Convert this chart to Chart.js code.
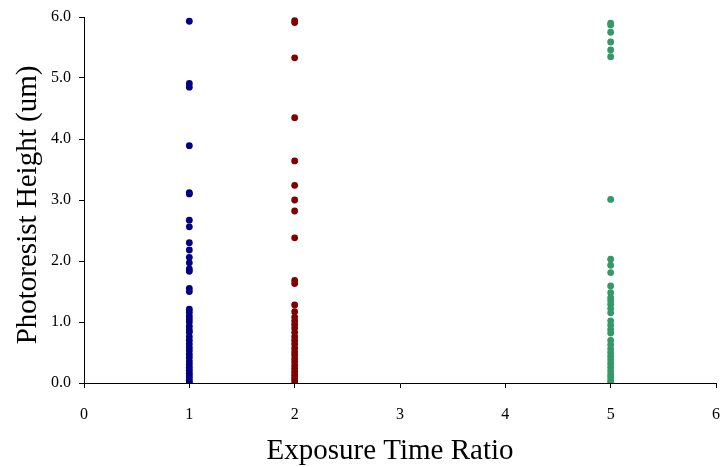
<!DOCTYPE html>
<html>
<head>
<meta charset="utf-8">
<script src="https://cdn.jsdelivr.net/npm/chart.js@4/dist/chart.umd.min.js"></script>
<style>
  html, body { margin: 0; padding: 0; background: #ffffff; }
  #wrap { width: 720px; height: 467px; }
</style>
</head>
<body>
<div id="wrap"><canvas id="chart" width="720" height="467"></canvas></div>
<script>
// Exposure time ratios tested
const ratios = [1, 2, 5];

// Measured photoresist heights (um) for each exposure time ratio
const heightsRatio1 = [5.93, 4.91, 4.85, 3.89, 3.12, 3.10, 2.67, 2.56, 2.30, 2.18, 2.06, 1.97, 1.87, 1.83, 1.55, 1.50,
  1.21, 1.16, 1.10, 1.05, 1.00, 0.93, 0.87, 0.83, 0.76, 0.70, 0.64, 0.58, 0.53, 0.47, 0.42, 0.36, 0.31, 0.26, 0.21,
  0.16, 0.12, 0.08, 0.04, 0.01];
const heightsRatio2 = [5.94, 5.91, 5.33, 4.35, 3.64, 3.24, 3.00, 2.82, 2.38, 1.68, 1.63, 1.28, 1.17, 1.08, 1.02, 0.96,
  0.90, 0.83, 0.76, 0.70, 0.64, 0.57, 0.51, 0.46, 0.40, 0.35, 0.29, 0.24, 0.19, 0.14, 0.10, 0.06, 0.02];
const heightsRatio5 = [5.90, 5.87, 5.75, 5.59, 5.46, 5.35, 3.01, 2.03, 1.93, 1.81, 1.59, 1.48, 1.40, 1.35, 1.29, 1.22,
  1.15, 1.02, 0.95, 0.88, 0.82, 0.70, 0.63, 0.56, 0.50, 0.44, 0.38, 0.32, 0.26, 0.20, 0.14, 0.09, 0.04, 0.00];

// Axis tick values
const xTicks = [0, 1, 2, 3, 4, 5, 6];
const yTicks = [0, 1, 2, 3, 4, 5, 6];

// Axis titles
const xTitle = 'Exposure Time Ratio';
const yTitle = 'Photoresist Height (um)';

const seriesColors = ['#000080', '#800000', '#339966'];
const seriesHeights = [heightsRatio1, heightsRatio2, heightsRatio5];

const datasets = ratios.map((r, i) => ({
  label: 'Ratio ' + r,
  data: seriesHeights[i].map(h => ({ x: r, y: h })),
  backgroundColor: seriesColors[i],
  borderColor: seriesColors[i],
  pointRadius: 3.4,
  pointBorderWidth: 0,
  pointHoverRadius: 3.4
}));

const serif = "'Liberation Serif', 'Times New Roman', serif";

// Axis titles placed a little off the plot centre, as in the original layout
const axisTitles = {
  id: 'axisTitles',
  afterDraw(chart) {
    const { ctx, chartArea } = chart;
    ctx.save();
    ctx.fillStyle = '#000000';
    ctx.font = '29px ' + serif;
    ctx.textAlign = 'center';
    ctx.textBaseline = 'middle';
    ctx.fillText(xTitle, (chartArea.left + chartArea.right) / 2 - 10, 451);
    ctx.translate(28, (chartArea.top + chartArea.bottom) / 2 + 5);
    ctx.rotate(-Math.PI / 2);
    ctx.fillText(yTitle, 0, 0);
    ctx.restore();
  }
};

new Chart(document.getElementById('chart'), {
  type: 'scatter',
  data: { datasets },
  plugins: [axisTitles],
  options: {
    responsive: false,
    animation: false,
    events: [],
    layout: { padding: { top: 17, right: 4, left: 0, bottom: 0 } },
    plugins: { legend: { display: false }, tooltip: { enabled: false } },
    scales: {
      x: {
        type: 'linear',
        min: xTicks[0],
        max: xTicks[xTicks.length - 1],
        afterBuildTicks: s => { s.ticks = xTicks.map(v => ({ value: v })); },
        afterFit: s => { s.height = 84; s.paddingLeft = 0; s.paddingRight = 0; },
        grid: { drawOnChartArea: false, drawTicks: true, tickLength: 5, color: '#000000', lineWidth: 1 },
        border: { display: true, color: '#000000', width: 1 },
        ticks: { color: '#000000', padding: 17, maxRotation: 0, font: { family: serif, size: 16 },
                  callback: v => String(v) },
        title: { display: false }
      },
      y: {
        type: 'linear',
        min: yTicks[0],
        max: yTicks[yTicks.length - 1],
        afterBuildTicks: s => { s.ticks = yTicks.map(v => ({ value: v })); },
        afterFit: s => { s.width = 84; s.paddingTop = 0; s.paddingBottom = 0; },
        grid: { drawOnChartArea: false, drawTicks: true, tickLength: 5, color: '#000000', lineWidth: 1 },
        border: { display: true, color: '#000000', width: 1 },
        ticks: { color: '#000000', padding: 8, font: { family: serif, size: 16 },
                 callback: v => Number(v).toFixed(1) },
        title: { display: false }
      }
    }
  }
});
</script>
</body>
</html>
